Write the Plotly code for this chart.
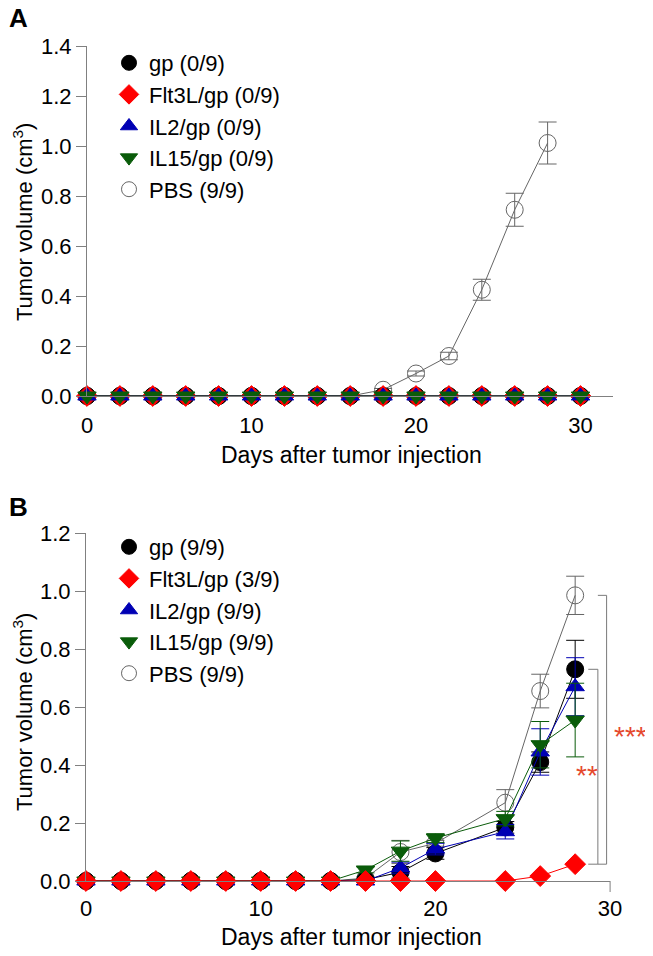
import plotly.graph_objects as go

# ---------------- Data ----------------
days_A = [0, 2, 4, 6, 8, 10, 12, 14, 16, 18, 20, 22, 24, 26, 28, 30]
gp_A = [0] * 16
flt_A = [0] * 16
il2_A = [0] * 16
il15_A = [0] * 16
days_pbs_A = [0, 2, 4, 6, 8, 10, 12, 14, 16, 18, 20, 22, 24, 26, 28]
pbs_A = [0, 0, 0, 0, 0, 0, 0, 0, 0, 0.025, 0.09, 0.16, 0.425, 0.745, 1.012]
pbs_A_err = [0, 0, 0, 0, 0, 0, 0, 0, 0, 0.005, 0.01, 0.015, 0.042, 0.066, 0.084]

days_B = [0, 2, 4, 6, 8, 10, 12, 14, 16, 18, 20, 24, 26, 28]
gp_B = [0, 0, 0, 0, 0, 0, 0, 0, 0.005, 0.03, 0.095, 0.185, 0.41, 0.73]
gp_B_err = [0, 0, 0, 0, 0, 0, 0, 0, 0.005, 0.02, 0.02, 0.02, 0.035, 0.10]
flt_B = [0, 0, 0, 0, 0, 0, 0, 0, 0, 0, 0, 0, 0.017, 0.058]
flt_B_err = [0] * 14
il2_B = [0, 0, 0, 0, 0, 0, 0, 0, 0.0, 0.045, 0.11, 0.17, 0.445, 0.67]
il2_B_err = [0, 0, 0, 0, 0, 0, 0, 0, 0.005, 0.02, 0.02, 0.025, 0.08, 0.10]
il15_B = [0, 0, 0, 0, 0, 0, 0, 0, 0.038, 0.103, 0.148, 0.215, 0.47, 0.555]
il15_B_err = [0, 0, 0, 0, 0, 0, 0, 0, 0.01, 0.035, 0.015, 0.025, 0.08, 0.127]
pbs_B = [0, 0, 0, 0, 0, 0, 0, 0, 0.01, 0.10, 0.13, 0.27, 0.655, 0.985]
pbs_B_err = [0, 0, 0, 0, 0, 0, 0, 0, 0.005, 0.04, 0.01, 0.045, 0.058, 0.066]

names_A = ["gp (0/9)", "Flt3L/gp (0/9)", "IL2/gp (0/9)", "IL15/gp (0/9)", "PBS (9/9)"]
names_B = ["gp (9/9)", "Flt3L/gp (3/9)", "IL2/gp (9/9)", "IL15/gp (9/9)", "PBS (9/9)"]

x_ticks = [0, 10, 20, 30]
yA_ticks = [0.0, 0.2, 0.4, 0.6, 0.8, 1.0, 1.2, 1.4]
yB_ticks = [0.0, 0.2, 0.4, 0.6, 0.8, 1.0, 1.2]

# ---------------- Styles ----------------
FONT = "Liberation Sans, Arial, sans-serif"
C_GP, C_FLT, C_IL2, C_IL15, C_PBS = "#000000", "#FF0000", "#0000B4", "#0A5C0A", "#666666"
STAR = "#E5482D"
OFF = 8                      # page body margin
W, H = 653 - OFF, 956 - OFF  # figure size that fits the window

SYM = {"gp": ("circle", 17, C_GP, C_GP), "Flt3L": ("diamond", 16, C_FLT, C_FLT),
       "IL2": ("triangle-up", 16, C_IL2, C_IL2), "IL15": ("triangle-down", 16, C_IL15, C_IL15),
       "PBS": ("circle", 17, "rgba(0,0,0,0)", C_PBS)}


def px_x(p):
    return (p - OFF) / W


def px_y(p):
    return 1 - (p - OFF) / H


fig = go.Figure()


def add(x, y, err, key, xa, ya):
    sym, size, fill, col = SYM[key]
    fig.add_trace(go.Scatter(
        x=x, y=y, mode="lines+markers", cliponaxis=False, showlegend=False,
        xaxis=xa, yaxis=ya,
        line=dict(color=col, width=1),
        marker=dict(symbol=sym, size=size, color=fill, line=dict(color=col, width=1)),
        error_y=(dict(type="data", array=err, visible=True, color=col,
                      thickness=1, width=9) if err is not None else dict(visible=False)),
    ))


def add_legend(name, key, legend, xa, ya):
    sym, size, fill, col = SYM[key]
    fig.add_trace(go.Scatter(
        x=[None], y=[None], mode="markers", name=name, legend=legend,
        xaxis=xa, yaxis=ya,
        marker=dict(symbol=sym, size=15, color=fill, line=dict(color=col, width=1)),
    ))


# Panel A
add(days_pbs_A, pbs_A, pbs_A_err, "PBS", "x", "y")
add(days_A, gp_A, None, "gp", "x", "y")
add(days_A, flt_A, None, "Flt3L", "x", "y")
add(days_A, il2_A, None, "IL2", "x", "y")
add(days_A, il15_A, None, "IL15", "x", "y")
for nm, k in zip(names_A, ["gp", "Flt3L", "IL2", "IL15", "PBS"]):
    add_legend(nm, k, "legend", "x", "y")

# Panel B
add(days_B, pbs_B, pbs_B_err, "PBS", "x2", "y2")
add(days_B, gp_B, gp_B_err, "gp", "x2", "y2")
add(days_B, il2_B, il2_B_err, "IL2", "x2", "y2")
add(days_B, il15_B, il15_B_err, "IL15", "x2", "y2")
add(days_B, flt_B, flt_B_err, "Flt3L", "x2", "y2")
for nm, k in zip(names_B, ["gp", "Flt3L", "IL2", "IL15", "PBS"]):
    add_legend(nm, k, "legend2", "x2", "y2")

axis_common = dict(showgrid=False, zeroline=False, showline=True, linecolor="#808080",
                   linewidth=1, automargin=False,
                   tickfont=dict(family=FONT, size=22, color="black"))

dom_xA = [px_x(87), px_x(87 + 32 * 16.45)]
dom_yA = [px_y(396), px_y(46)]
dom_xB = [px_x(86), px_x(86 + 30 * 17.47)]
dom_yB = [px_y(881), px_y(533)]

fig.update_layout(
    width=W, height=H, margin=dict(l=0, r=0, t=0, b=0, pad=0, autoexpand=False),
    paper_bgcolor="white", plot_bgcolor="white",
    font=dict(family=FONT, color="black"),
    xaxis=dict(axis_common, domain=dom_xA, range=[0, 32], anchor="y",
               tickvals=x_ticks, ticks="", ticklabelstandoff=10),
    yaxis=dict(axis_common, domain=dom_yA, range=[0, 1.4], anchor="x",
               tickvals=yA_ticks, tickformat=".1f", ticks="outside", ticklen=10,
               tickcolor="#808080", ticklabelstandoff=0),
    xaxis2=dict(axis_common, domain=dom_xB, range=[0, 30], anchor="y2",
                tickvals=x_ticks, ticks="", ticklabelstandoff=8),
    yaxis2=dict(axis_common, domain=dom_yB, range=[0, 1.2], anchor="x2",
                tickvals=yB_ticks, tickformat=".1f", ticks="outside", ticklen=10,
                tickcolor="#808080", ticklabelstandoff=0),
    legend=dict(x=px_x(109), y=px_y(42), xanchor="left", yanchor="top",
                font=dict(family=FONT, size=22), bgcolor="rgba(0,0,0,0)",
                traceorder="normal", itemclick=False),
    legend2=dict(x=px_x(109), y=px_y(526), xanchor="left", yanchor="top",
                 font=dict(family=FONT, size=22), bgcolor="rgba(0,0,0,0)",
                 traceorder="normal", itemclick=False),
)

ann = [
    dict(text="<b>A</b>", x=px_x(18), y=px_y(18), size=26),
    dict(text="<b>B</b>", x=px_x(18), y=px_y(507), size=26),
    dict(text="Days after tumor injection", x=px_x(351), y=px_y(455), size=23),
    dict(text="Days after tumor injection", x=px_x(351), y=px_y(937), size=23),
]
for a in ann:
    fig.add_annotation(xref="paper", yref="paper", showarrow=False,
                       xanchor="center", yanchor="middle", text=a["text"],
                       x=a["x"], y=a["y"], font=dict(family=FONT, color="black", size=a["size"]))
for yc in (222, 712):
    fig.add_annotation(xref="paper", yref="paper", showarrow=False, textangle=-90,
                       xanchor="center", yanchor="middle", text="Tumor volume (cm<sup>3</sup>)",
                       x=px_x(23), y=px_y(yc), font=dict(family=FONT, color="black", size=22))

# Significance brackets in panel B
ymax_B, xmax_B = 1.2, 30
top_out = pbs_B[-1] / ymax_B
top_in = gp_B[-1] / ymax_B
bot = flt_B[-1] / ymax_B
x_out, x_in = 29.8 / xmax_B, 29.3 / xmax_B
x_in_l = 28.75 / xmax_B
br = dict(color="#7a7a7a", width=1)
for (x0, y0, x1, y1) in [
    (x_in, top_out, x_out, top_out), (x_out, top_out, x_out, bot), (x_in, bot, x_out, bot),
    (x_in_l, top_in, x_in, top_in), (x_in, top_in, x_in, bot), (x_in_l, bot, x_in, bot),
]:
    fig.add_shape(type="line", xref="x2 domain", yref="y2 domain",
                  x0=x0, y0=y0, x1=x1, y1=y1, line=br)
fig.add_shape(type="line", xref="x2 domain", yref="paper", x0=1, x1=1,
              y0=px_y(881), y1=px_y(892), line=dict(color="#808080", width=1))

fig.add_annotation(text="***", xref="x2 domain", yref="y2 domain",
                   x=32.2 / xmax_B, y=0.50 / ymax_B, showarrow=False,
                   font=dict(family=FONT, size=28, color=STAR))
fig.add_annotation(text="**", xref="x2 domain", yref="y2 domain",
                   x=29.4 / xmax_B, y=0.305 / ymax_B, showarrow=False,
                   font=dict(family=FONT, size=28, color=STAR))

fig.write_html("out.html")
